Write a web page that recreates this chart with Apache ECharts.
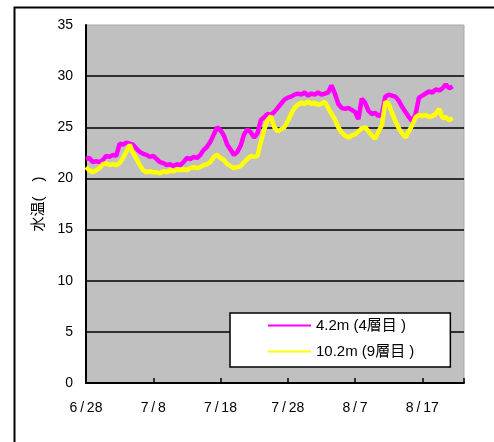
<!DOCTYPE html>
<html><head><meta charset="utf-8">
<script src="https://cdn.jsdelivr.net/npm/echarts@6/dist/echarts.min.js"></script>
<style>html,body{margin:0;padding:0;background:#fff}#c{width:494px;height:442px}</style>
</head><body><div id="c"></div>
<script>
// x tick labels (every 10 days from 6/28)
const tickLabels = ['6\u2009/\u200928', '7\u2009/\u20098', '7\u2009/\u200918', '7\u2009/\u200928', '8\u2009/\u20097', '8\u2009/\u200917'];
const stepDays = 0.5; // sample spacing (days from 6/28)
const seriesNames = ['4.2m (4層目 )', '10.2m (9層目 )'];
const temp42 = [
21.9,22.0,21.6,21.7,21.6,21.8,22.2,22.1,22.3,22.2,
23.4,23.3,23.5,23.4,23.3,22.9,22.6,22.4,22.3,22.1,
22.2,21.9,21.6,21.5,21.3,21.4,21.2,21.4,21.3,21.6,
22.0,21.9,22.1,22.0,22.3,22.8,23.1,23.6,24.3,25.0,
24.7,24.2,23.3,22.8,22.3,22.6,23.2,24.3,24.8,24.5,
24.0,24.4,25.7,26.0,26.3,26.2,26.5,26.9,27.3,27.7,
27.9,28.0,28.2,28.3,28.2,28.4,28.1,28.3,28.2,28.4,
28.2,28.3,28.4,29.1,28.3,27.3,26.9,26.8,26.9,26.7,
26.5,25.8,27.8,27.4,26.6,26.3,26.4,26.1,26.3,28.0,
28.2,28.1,28.0,27.6,27.0,26.5,26.0,25.6,26.3,27.9,
28.1,28.3,28.5,28.4,28.7,28.6,28.8,29.2,28.8,29.0];
const temp102 = [
21.1,20.8,20.6,20.8,21.0,21.4,21.5,21.3,21.4,21.3,
21.5,22.0,22.6,23.3,22.5,21.9,21.3,20.8,20.6,20.7,
20.6,20.6,20.5,20.7,20.6,20.8,20.7,20.9,20.8,20.9,
20.8,21.0,21.1,21.0,21.1,21.3,21.4,21.6,22.1,22.3,
22.0,21.8,21.4,21.2,21.0,21.1,21.2,21.6,21.9,22.2,
22.1,22.2,23.6,24.8,25.7,26.1,25.0,24.6,24.8,25.0,
25.6,26.3,26.9,27.2,27.4,27.3,27.5,27.3,27.4,27.2,
27.3,27.5,26.9,26.3,25.8,25.0,24.5,24.2,24.0,24.2,
24.3,24.6,24.9,25.0,24.6,24.2,23.9,24.6,25.2,27.5,
27.3,26.4,25.6,24.9,24.4,24.0,24.6,25.2,26.0,26.2,
26.1,26.2,26.0,26.1,26.3,26.8,25.9,26.0,25.7,25.9];

const toPairs = arr => arr.map((v, i) => [i * stepDays, v]);
const font = "'Liberation Sans', Arial, 'Noto Sans CJK JP', sans-serif";
const chart = echarts.init(document.getElementById('c'), null, {renderer: 'canvas'});
chart.setOption({
  animation: false,
  textStyle: {fontFamily: font},
  graphic: [{
    type: 'rect', left: 12, top: 5, z: -10, silent: true,
    shape: {x: 0, y: 0, width: 600, height: 600},
    style: {fill: null, stroke: '#000', lineWidth: 2}
  }],
  grid: {left: 86, top: 25, right: 30, bottom: 59, show: true,
    backgroundColor: '#c0c0c0', borderColor: '#a8a8a8', borderWidth: 1},
  legend: {
    orient: 'vertical', left: 230, top: 313,
    backgroundColor: '#fff', borderColor: '#000', borderWidth: 1.5, borderRadius: 0,
    padding: [5, 36, 8, 38], itemGap: 11, itemWidth: 43, itemHeight: 2,
    icon: 'rect',
    textStyle: {fontSize: 15, color: '#000', fontFamily: font},
    data: seriesNames
  },
  xAxis: {
    type: 'value', min: 0, max: 56.2, interval: 10,
    axisLine: {lineStyle: {color: '#000', width: 2}},
    axisTick: {inside: true, length: 5, lineStyle: {color: '#000', width: 1.5}},
    splitLine: {show: false},
    axisLabel: {margin: 18, fontSize: 14, color: '#000',
      formatter: v => (v % 10 === 0 && tickLabels[v / 10] !== undefined) ? tickLabels[v / 10] : ''}
  },
  yAxis: {
    type: 'value', min: 0, max: 35, interval: 5,
    name: '水温(\u3000)', nameLocation: 'middle', nameGap: 38,
    nameTextStyle: {fontSize: 15, color: '#000', fontFamily: font},
    axisLine: {show: true, lineStyle: {color: '#000', width: 2}},
    axisTick: {show: false},
    axisLabel: {margin: 13, fontSize: 14, color: '#000'},
    splitLine: {show: true, lineStyle: {color: ['#000','#000','#000','#000','#000','#000','#000','rgba(0,0,0,0)'], width: 1.5}}
  },
  series: [
    {name: seriesNames[0], type: 'line', data: toPairs(temp42), showSymbol: false,
      lineStyle: {color: '#ff00ff', width: 4.5}, itemStyle: {color: '#ff00ff'}},
    {name: seriesNames[1], type: 'line', data: toPairs(temp102), showSymbol: false,
      lineStyle: {color: '#ffff00', width: 4.5}, itemStyle: {color: '#ffff00'}}
  ]
});
</script></body></html>
